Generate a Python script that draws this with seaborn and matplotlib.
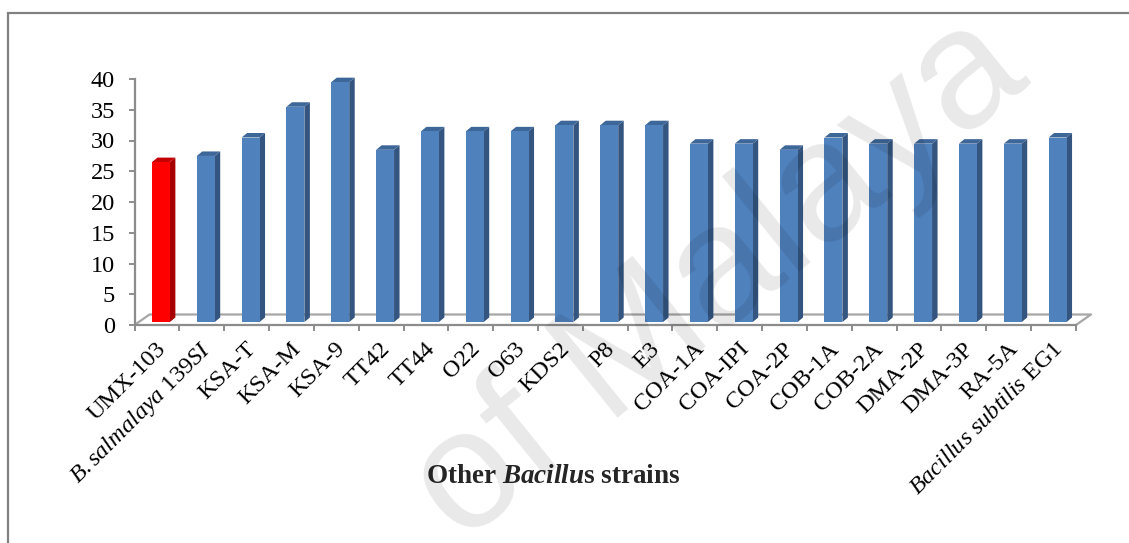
import matplotlib
matplotlib.use("Agg")
import matplotlib.pyplot as plt
import numpy as np
import pandas as pd
import seaborn as sns
from matplotlib.patches import Polygon, Rectangle
from matplotlib.lines import Line2D
from matplotlib.transforms import IdentityTransform, ScaledTranslation

# ---- data ----
strains = ["UMX-103", "B.salmalaya 139SI", "KSA-T", "KSA-M", "KSA-9", "TT42",
           "TT44", "O22", "O63", "KDS2", "P8", "E3", "COA-1A", "COA-IPI",
           "COA-2P", "COB-1A", "COB-2A", "DMA-2P", "DMA-3P", "RA-5A",
           "Bacillus subtilis EG1"]
values = [26, 27, 30, 35, 39, 28, 31, 31, 31, 32, 32, 32, 29, 29, 28, 30, 29,
          29, 29, 29, 30]
highlight = "UMX-103"
styled_labels = {
    "B.salmalaya 139SI": r"$\mathit{B.salmalaya\ 139SI}$",
    "Bacillus subtilis EG1": r"$\mathit{Bacillus\ subtilis}$ EG1",
}
y_ticks = [0, 5, 10, 15, 20, 25, 30, 35, 40]

# ---- style ----
sns.set_theme(style="white")
plt.rcParams["font.family"] = ["Liberation Serif", "DejaVu Serif"]
plt.rcParams["mathtext.fontset"] = "custom"
plt.rcParams["mathtext.it"] = "Liberation Serif:italic"
plt.rcParams["mathtext.rm"] = "Liberation Serif"
plt.rcParams["mathtext.sf"] = "Liberation Serif:italic:bold"

W, H, DPI = 1129, 543, 100
fig = plt.figure(figsize=(W / DPI, H / DPI), dpi=DPI)
fig.patch.set_facecolor("white")

axis_grey = "#8C8C8C"
face = {"UMX": ("#FF0000", "#A80000", "#C40000"),
        "other": ("#4F81BD", "#33557F", "#3D6699")}
tick_size = 17.5

# axes area in pixels: left, right, y(0), y(40)
ax = fig.add_axes([134.5 / W, (H - 325) / H, (1076 - 134.5) / W, (325 - 79) / H])
ax.set_facecolor("none")

df = pd.DataFrame({"strain": strains, "value": values})
df["group"] = np.where(df["strain"] == highlight, "UMX", "other")
sns.barplot(data=df, x="strain", y="value", hue="group",
            palette={k: v[0] for k, v in face.items()}, dodge=False,
            width=0.4, saturation=1, legend=False, ax=ax, zorder=3)
ax.set_xlim(-0.5, len(strains) - 0.5)
ax.set_ylim(0, 40)

# pseudo-3D: front faces sit slightly back on the floor, with side and top faces
front_off = (4.0, 3.0)
depth = (5.5, 4.5)
shift = ScaledTranslation(front_off[0] / DPI, front_off[1] / DPI, fig.dpi_scale_trans)
bars = [p for p in ax.patches]
for p, grp in zip(bars, df["group"]):
    p.set_transform(ax.transData + shift)
    p.set_clip_on(False)
    p.set_edgecolor("none")
    x0, x1 = p.get_x(), p.get_x() + p.get_width()
    h = p.get_height()
    (xl, yb), (xr, yt) = ax.transData.transform([(x0, 0), (x1, h)])
    xl += front_off[0]; xr += front_off[0]
    yb += front_off[1]; yt += front_off[1]
    dx, dy = depth
    side = Polygon([(xr, yb), (xr, yt), (xr + dx, yt + dy), (xr + dx, yb + dy)],
                   closed=True, facecolor=face[grp][1], edgecolor="none",
                   transform=IdentityTransform(), clip_on=False, zorder=2.9)
    top = Polygon([(xl, yt), (xr, yt), (xr + dx, yt + dy), (xl + dx, yt + dy)],
                  closed=True, facecolor=face[grp][2], edgecolor="none",
                  transform=IdentityTransform(), clip_on=False, zorder=2.9)
    ax.add_artist(side)
    ax.add_artist(top)

# floor outline
fd = (15.0, 10.5)
(fxl, fy), (fxr, _) = ax.transData.transform([(-0.5, 0), (len(strains) - 0.5, 0)])
floor_pts = [(fxl, fy), (fxl + fd[0], fy + fd[1]), (fxr + fd[0], fy + fd[1]), (fxr, fy)]
floor = Line2D([p[0] for p in floor_pts], [p[1] for p in floor_pts],
               color="#A6A6A6", lw=1.6, transform=IdentityTransform(),
               clip_on=False, zorder=1)
ax.add_artist(floor)

# axes styling
for s in ["top", "right"]:
    ax.spines[s].set_visible(False)
for s in ["left", "bottom"]:
    ax.spines[s].set_color(axis_grey)
    ax.spines[s].set_linewidth(1.6)
    ax.spines[s].set_zorder(4)

ax.set_yticks(y_ticks)
ax.set_yticklabels([str(v) for v in y_ticks])
ax.tick_params(axis="y", direction="out", length=4, width=1.4, color=axis_grey,
               labelsize=tick_size, labelcolor="black", pad=10, left=True)

ax.set_xticks(range(len(strains)))
ax.set_xticklabels([styled_labels.get(s, s) for s in strains])
ax.set_xticks(np.arange(-0.5, len(strains), 1.0), minor=True)
ax.tick_params(axis="x", which="major", length=0, pad=15, labelsize=tick_size,
               labelcolor="black")
ax.tick_params(axis="x", which="minor", direction="out", length=4.5, width=1.4,
               color=axis_grey, bottom=True)
lab_shift = ScaledTranslation(6 / DPI, 0, fig.dpi_scale_trans)
for lab in ax.get_xticklabels():
    lab.set_rotation(45)
    lab.set_rotation_mode("anchor")
    lab.set_ha("right")
    lab.set_va("center")
    lab.set_transform(lab.get_transform() + lab_shift)
ax.set_xlabel("")
ax.set_ylabel("")

# axis title
fig.text(553 / W, 1 - 483 / H, r"Other $\mathsf{Bacillu}$s strains",
         ha="center", va="baseline", fontsize=19.5, fontweight="bold")

# outer frame
fig.add_artist(Rectangle((8 / W, -0.3), 1.2, 1.3 - 13 / H, transform=fig.transFigure,
                         fill=False, edgecolor="#808080", lw=1.6))

# watermark
fig.text(1032 / W, 1 - 82 / H, "of Malaya", rotation=39,
         rotation_mode="anchor", ha="right", va="baseline", fontsize=122,
         family="Liberation Sans", color="black", alpha=0.09, zorder=10)

fig.savefig("out.png", dpi=DPI, facecolor="white")
